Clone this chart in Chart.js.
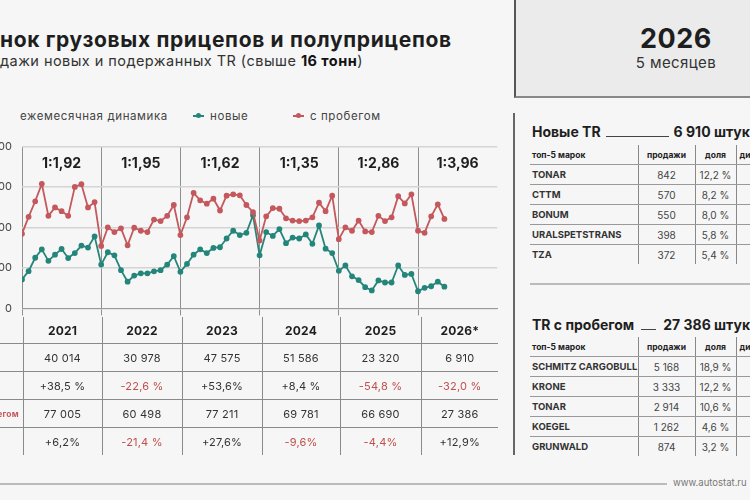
<!DOCTYPE html>
<html lang="ru">
<head>
<meta charset="utf-8">
<script src="https://cdn.jsdelivr.net/npm/chart.js@4.4.1/dist/chart.umd.min.js"></script>
<style>
    html, body { margin: 0; padding: 0; }
    body {
        width: 750px;
        height: 500px;
        position: relative;
        overflow: hidden;
        background: #f6f6f6;
        font-family: 'Inter', 'Open Sans', sans-serif;
        color: #1e1e1e;
    }
    .abs { position: absolute; white-space: nowrap; }
    .cut { position: absolute; right: 100%; }
    .title { left: 0; top: 27px; font-size: 21px; font-weight: 700; letter-spacing: 0.65px; }
    .title > span { position: relative; }
    .subtitle { left: 0; top: 52px; font-size: 14.5px; color: #333; letter-spacing: 0.45px; }
    .year-box {
        left: 514px; top: 0; width: 320px; height: 96px;
        background: #ebebeb;
        border-left: 2px solid #555;
        border-bottom: 2px solid #888;
        text-align: center;
    }
    .year-box .big { position: absolute; left: 0; right: 0; top: 22px; font-size: 27px; font-weight: 700; letter-spacing: 0.5px; }
    .year-box .small { position: absolute; left: 0; right: 0; top: 53px; font-size: 15px; color: #333; letter-spacing: 0.4px; }
    .legend { top: 109px; font-size: 11.5px; color: #444; letter-spacing: 0.6px; }
    .marker { display: inline-block; position: relative; width: 11px; height: 2px; vertical-align: middle; margin-right: 6px; top: -1px; }
    .marker::after { content: ''; position: absolute; left: 3px; top: -2px; width: 5px; height: 5px; border-radius: 50%; background: inherit; }
    #chartWrap { position: absolute; left: -40px; top: 130px; width: 541px; height: 195px; }
    table { border-collapse: collapse; position: absolute; table-layout: fixed; }
    td { white-space: nowrap; }
    .year-table { left: -60px; top: 317px; width: 558px; }
    .year-table td { text-align: center; font-size: 11px; color: #333; padding: 0; letter-spacing: 0.2px; }
    .year-table tr.head td { height: 26px; font-weight: 700; font-size: 12px; color: #1e1e1e; }
    .year-table tr.row td { height: 27px; }
    .year-table tr:not(:last-child) td { border-bottom: 1px solid #8a8a8a; }
    .year-table td + td { border-left: 1px solid #8a8a8a; }
    .year-table td.lab { text-align: left; font-size: 8.5px; font-weight: 700; padding-left: 28px; }
    .neg { color: #c0504d !important; }
    .vline { left: 513px; top: 113px; width: 2px; height: 342px; background: #666; }
    .panel-title { left: 532px; font-size: 14px; font-weight: 700; }
    .panel-title .dash { display: inline-block; border-bottom: 1.5px solid #444; vertical-align: baseline; }
    .brand-table { left: 530px; width: 256px; }
    .brand-table td { padding: 0; height: 19px; font-size: 10px; color: #444; text-align: center; overflow: visible; }
    .brand-table td:first-child { text-align: left; font-weight: 700; font-size: 9.5px; color: #333; padding-left: 2px; }
    .brand-table tr.head td { font-weight: 700; font-size: 8.5px; color: #222; }
    .brand-table tr:not(:last-child) td { border-bottom: 1px solid #999; }
    .brand-table td + td { border-left: 1.5px solid #888; }
    .hline { height: 2px; background: #bbb; }
    .site { left: 673px; top: 477px; font-size: 9.5px; color: #777; }
</style>
</head>
<body>
<div class="abs title"><span><span class="cut">Ры</span>нок грузовых прицепов и полуприцепов</span></div>
<div class="abs subtitle"><span style="position:relative"><span class="cut">Про</span>дажи новых и подержанных TR (свыше <b style="color:#111">16 тонн</b>)</span></div>

<div class="abs year-box"><div class="big">2026</div><div class="small">5 месяцев</div></div>

<div class="abs legend" style="left:20px">ежемесячная динамика</div>
<div class="abs legend" style="left:193px"><span class="marker" style="background:#24867a"></span>новые</div>
<div class="abs legend" style="left:293px"><span class="marker" style="background:#c4585c"></span>с пробегом</div>

<div id="chartWrap"><canvas id="chart"></canvas></div>

<table class="year-table" id="yearTable"></table>

<div class="abs vline"></div>

<div class="abs panel-title" style="top:123px">Новые TR<span class="dash" style="width:63px; margin:0 5px"></span>6 910 штук</div>
<table class="brand-table" id="newBrands" style="top:145px"></table>

<div class="abs hline" style="left:530px; top:283px; width:220px"></div>

<div class="abs panel-title" style="top:316px">TR с пробегом<span class="dash" style="width:15px; margin:0 7px"></span>27 386 штук</div>
<table class="brand-table" id="usedBrands" style="top:337px"></table>

<div class="abs hline" style="left:0; top:483px; width:667px"></div>
<div class="abs site">www.autostat.ru</div>

<script>
    // --- data ---
    const years = ['2021', '2022', '2023', '2024', '2025', '2026*'];
    const ratios = ['1:1,92', '1:1,95', '1:1,62', '1:1,35', '1:2,86', '1:3,96'];
    const yTicks = [0, 2500, 5000, 7500, 10000];

    const newMonthly = [
        1790, 2300, 3130, 3650, 2940, 3320, 3670, 3110, 3420, 3880, 3760, 4450,
        2710, 3470, 3280, 2360, 1650, 2030, 2170, 2170, 2290, 2360, 2710, 3230,
        2260, 2750, 3320, 3650, 3420, 3740, 3780, 4320, 4800, 4530, 4670, 5760,
        3280, 4720, 4480, 4900, 4030, 4380, 4320, 4570, 3990, 5130, 3690, 3420,
        2320, 2650, 1980, 1750, 1310, 1110, 1730, 1600, 1600, 2650, 2070, 2130,
        1060, 1270, 1370, 1650, 1340,
    ];
    const usedMonthly = [
        4610, 5660, 6620, 7700, 5720, 6240, 6010, 5720, 7510, 7680, 6240, 6570,
        3860, 5010, 4720, 4950, 3900, 4990, 4800, 4720, 5490, 5400, 5720, 6390,
        4530, 5630, 7140, 6680, 6470, 6780, 6050, 6970, 7050, 6990, 6390, 5950,
        4190, 5690, 6200, 6160, 5570, 5430, 5400, 5430, 5630, 6530, 6010, 6970,
        4280, 5010, 4800, 5430, 4760, 4720, 5720, 5400, 5630, 6930, 6490, 7050,
        4800, 4670, 5690, 6430, 5530,
    ];

    const newTotals = ['40 014', '30 978', '47 575', '51 586', '23 320', '6 910'];
    const newChange = ['+38,5 %', '-22,6 %', '+53,6%', '+8,4 %', '-54,8 %', '-32,0 %'];
    const usedTotals = ['77 005', '60 498', '77 211', '69 781', '66 690', '27 386'];
    const usedChange = ['+6,2%', '-21,4 %', '+27,6%', '-9,6%', '-4,4%', '+12,9%'];

    const newBrands = ['TONAR', 'CTTM', 'BONUM', 'URALSPETSTRANS', 'TZA'];
    const newBrandSales = ['842', '570', '550', '398', '372'];
    const newBrandShare = ['12,2 %', '8,2 %', '8,0 %', '5,8 %', '5,4 %'];
    const usedBrands = ['SCHMITZ CARGOBULL', 'KRONE', 'TONAR', 'KOEGEL', 'GRUNWALD'];
    const usedBrandSales = ['5 168', '3 333', '2 914', '1 262', '874'];
    const usedBrandShare = ['18,9 %', '12,2 %', '10,6 %', '4,6 %', '3,2 %'];

    const GREEN = '#24867a',
          RED = '#c4585c',
          MONTHS_PER_YEAR = 12;

    // --- year table ---
    const colWidths = [83, 79, 80, 80, 78, 81, 77];
    const yearTable = document.getElementById('yearTable');
    const colgroup = document.createElement('colgroup');
    colWidths.forEach((w) => {
        const col = document.createElement('col');
        col.style.width = w + 'px';
        colgroup.appendChild(col);
    });
    yearTable.appendChild(colgroup);

    function addRow(table, cls, label, labelColor, cells) {
        const tr = document.createElement('tr');
        tr.className = cls;
        const lab = document.createElement('td');
        lab.className = 'lab';
        lab.textContent = label;
        if (labelColor) lab.style.color = labelColor;
        tr.appendChild(lab);
        cells.forEach((text) => {
            const td = document.createElement('td');
            td.textContent = text;
            if (text.startsWith('-')) td.classList.add('neg');
            tr.appendChild(td);
        });
        table.appendChild(tr);
    }

    addRow(yearTable, 'head', '', null, years);
    addRow(yearTable, 'row', 'новые', GREEN, newTotals);
    addRow(yearTable, 'row', '', null, newChange);
    addRow(yearTable, 'row', 'с пробегом', RED, usedTotals);
    addRow(yearTable, 'row', '', null, usedChange);

    // --- brand tables ---
    function fillBrands(table, brands, sales, share) {
        const widths = [108, 57, 41, 50];
        const cg = document.createElement('colgroup');
        widths.forEach((w) => {
            const col = document.createElement('col');
            col.style.width = w + 'px';
            cg.appendChild(col);
        });
        table.appendChild(cg);

        const rows = [['топ-5 марок', 'продажи', 'доля', 'динамика']]
            .concat(brands.map((b, i) => [b, sales[i], share[i], '']));
        rows.forEach((cells, r) => {
            const tr = document.createElement('tr');
            if (r === 0) tr.className = 'head';
            cells.forEach((text) => {
                const td = document.createElement('td');
                td.textContent = text;
                tr.appendChild(td);
            });
            table.appendChild(tr);
        });
    }

    fillBrands(document.getElementById('newBrands'), newBrands, newBrandSales, newBrandShare);
    fillBrands(document.getElementById('usedBrands'), usedBrands, usedBrandSales, usedBrandShare);

    // --- chart ---
    const toPoints = (arr) => arr.map((v, i) => ({ x: i, y: v }));
    const xMax = years.length * MONTHS_PER_YEAR;

    const ratioLabels = {
        id: 'ratioLabels',
        afterDraw(chart) {
            const { ctx, scales: { x }, chartArea } = chart;
            ctx.save();
            ctx.font = '700 14px Inter, "Open Sans", sans-serif';
            ctx.fillStyle = '#1e1e1e';
            ctx.textAlign = 'center';
            ctx.textBaseline = 'middle';
            ratios.forEach((r, i) => {
                const px = x.getPixelForValue(i * MONTHS_PER_YEAR + MONTHS_PER_YEAR / 2);
                ctx.fillText(r, px, chartArea.top + 17);
            });
            ctx.restore();
        },
    };

    new Chart(document.getElementById('chart'), {
        type: 'line',
        data: {
            datasets: [
                {
                    label: 'с пробегом',
                    data: toPoints(usedMonthly),
                    borderColor: RED,
                    backgroundColor: RED,
                    borderWidth: 1.8,
                    pointRadius: 2,
                    pointHoverRadius: 2,
                    tension: 0,
                },
                {
                    label: 'новые',
                    data: toPoints(newMonthly),
                    borderColor: GREEN,
                    backgroundColor: GREEN,
                    borderWidth: 1.8,
                    pointRadius: 2,
                    pointHoverRadius: 2,
                    tension: 0,
                },
            ],
        },
        options: {
            responsive: true,
            maintainAspectRatio: false,
            animation: false,
            layout: { padding: { top: 8, right: 1, left: 0, bottom: 0 } },
            plugins: {
                legend: { display: false },
                tooltip: { enabled: false },
            },
            scales: {
                x: {
                    type: 'linear',
                    min: 0,
                    max: xMax,
                    afterBuildTicks: (scale) => {
                        scale.ticks = years.map((_, i) => ({ value: i * MONTHS_PER_YEAR }))
                            .concat([{ value: xMax }]);
                    },
                    afterFit: (scale) => { scale.height = 14; },
                    ticks: { display: false },
                    grid: {
                        color: (c) => (c.tick && c.tick.value === xMax ? 'rgba(0,0,0,0)' : '#8f8f8f'),
                        lineWidth: 1,
                        drawTicks: true,
                        tickLength: 7,
                    },
                    border: { display: true, color: '#9a9a9a', width: 1 },
                },
                y: {
                    min: 0,
                    max: 10000,
                    afterBuildTicks: (scale) => {
                        scale.ticks = yTicks.map((v) => ({ value: v }));
                    },
                    afterFit: (scale) => { scale.width = 62; },
                    ticks: {
                        color: '#444',
                        padding: 10,
                        font: { family: 'Inter', size: 11 },
                        callback: (v) => v.toLocaleString('ru-RU').replace(/\u00a0/g, ' '),
                    },
                    grid: { color: '#d4d4d4', lineWidth: 1.5, drawTicks: false },
                    border: { display: false },
                },
            },
        },
        plugins: [ratioLabels],
    });
</script>
</body>
</html>
